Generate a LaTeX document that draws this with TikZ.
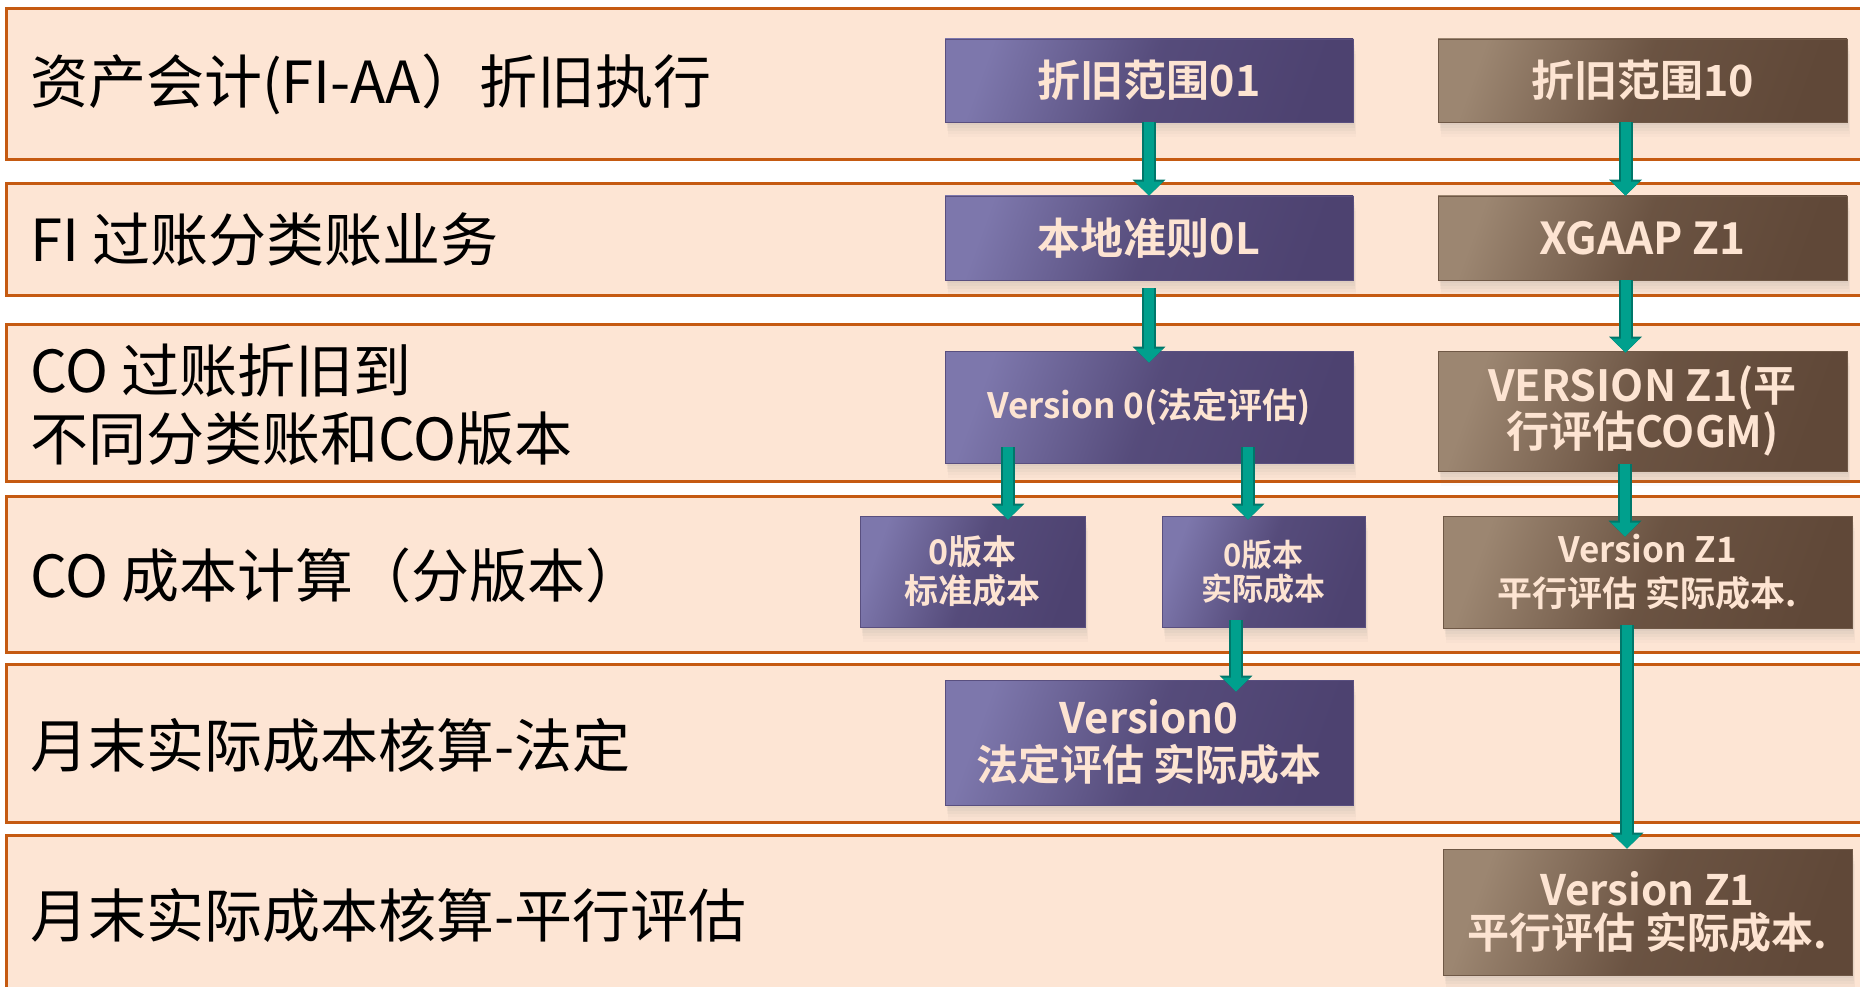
\documentclass[tikz,border=0pt]{standalone}
\usepackage{fontspec}
\setmainfont{Noto Sans CJK SC}[BoldFont={Noto Sans CJK SC Bold}]
\usetikzlibrary{arrows.meta,shadows,calc}
\definecolor{bandfill}{HTML}{FDE5D4}
\definecolor{bandline}{HTML}{C55A11}
\definecolor{pL}{HTML}{7D77AC}
\definecolor{pD}{HTML}{4D4270}
\definecolor{bL}{HTML}{9C8671}
\definecolor{bD}{HTML}{604838}
\definecolor{boxtext}{HTML}{FDE4D2}
\definecolor{tealL}{HTML}{00A08D}
\definecolor{tealD}{HTML}{00776A}
\tikzset{
  band/.style={draw=bandline, line width=3pt, fill=bandfill},
  lab/.style={anchor=west, inner sep=0pt, font=\fontsize{58}{68}\selectfont, align=left, text=black},
  boxbase/.style={inner sep=0pt, align=center, text=boxtext,
    drop shadow={opacity=.06, shadow xshift=1pt, shadow yshift=-3pt},
    drop shadow={opacity=.06, shadow xshift=2pt, shadow yshift=-6pt},
    drop shadow={opacity=.05, shadow xshift=2pt, shadow yshift=-9pt},
    drop shadow={opacity=.04, shadow xshift=3pt, shadow yshift=-12pt},
    drop shadow={opacity=.03, shadow xshift=3pt, shadow yshift=-15pt}},
  pbox/.style={boxbase, left color=pL, right color=pD, middle color=pD!82!pL, shading angle=70, draw=pD!75!pL, line width=0.8pt},
  bbox/.style={boxbase, left color=bL, right color=bD, middle color=bD!82!bL, shading angle=70, draw=bD!75!bL, line width=0.8pt},
  fs/.style 2 args={font=\bfseries\fontsize{#1}{#2}\selectfont},
  arr/.style={draw=tealL, line width=10pt, -{Triangle[width=27pt,length=14pt]},
    preaction={draw=tealD, line width=14pt, -{Triangle[width=32pt,length=16pt]}}},
}
\begin{document}
\begin{tikzpicture}[x=1pt,y=-1pt]
\clip (0,0) rectangle (1860,987);
\fill[white] (0,0) rectangle (1860,987);
% bands
\draw[band] (6,9) rectangle (1900,160);
\draw[band] (6,184) rectangle (1900,295);
\draw[band] (6,324) rectangle (1900,481);
\draw[band] (6,496) rectangle (1900,652);
\draw[band] (6,664) rectangle (1900,822);
\draw[band] (6,835) rectangle (1900,1010);
% labels
\node[lab] (l1) at (30,84) {资产会计(FI-AA）折旧执行};
\node[lab] (l2) at (30,240) {FI 过账分类账业务};
\node[lab] (l3) at (30,405) {CO 过账折旧到\\不同分类账和CO版本};
\node[lab] (l4) at (30,575) {CO 成本计算（分版本）};
\node[lab] (l5) at (30,745) {月末实际成本核算-法定};
\node[lab] (l6) at (30,915) {月末实际成本核算-平行评估};
% boxes
\node[pbox, minimum width=408pt, minimum height=83pt, fs={43}{48}] (b01) at (1149,80.5) {折旧范围01};
\node[bbox, minimum width=409pt, minimum height=83pt, fs={43}{48}] (b10) at (1642.5,80.5) {折旧范围10};
\node[pbox, minimum width=408pt, minimum height=84pt, fs={43}{48}] (b0L) at (1149,238) {本地准则0L};
\node[bbox, minimum width=409pt, minimum height=84pt, fs={44}{48}] (bZ1) at (1642.5,238) {XGAAP Z1};
\node[pbox, minimum width=408pt, minimum height=112pt, fs={35}{40}] (bV0) at (1149,407) {Version 0(法定评估)};
\node[bbox, minimum width=409pt, minimum height=120pt, fs={43}{41}] (bVZ1) at (1642.5,411) {VERSION Z1(平\\行评估COGM)};
\node[pbox, minimum width=225pt, minimum height=111pt, fs={34}{39}] (bstd) at (972.5,571.5) {0版本\\标准成本};
\node[pbox, minimum width=203pt, minimum height=111pt, fs={31}{34}] (bact) at (1263.5,571.5) {0版本\\实际成本};
\node[bbox, minimum width=409pt, minimum height=112pt, fs={35}{44}] (bZ1a) at (1647.5,572) {Version Z1\\平行评估 实际成本.};
\node[pbox, minimum width=408pt, minimum height=125pt, fs={42}{47}] (bV0a) at (1149,742.5) {Version0\\法定评估 实际成本};
\node[bbox, minimum width=409pt, minimum height=126pt, fs={42}{43}] (bZ1b) at (1647.5,912) {Version Z1\\平行评估 实际成本.};
% arrows
\draw[arr] (b01.south) -- (b0L.north);
\draw[arr] ($(b10.south)+(-17,0)$) -- ($(bZ1.north)+(-17,0)$);
\draw[arr] ($(b0L.south)+(0,8)$) -- ($(bV0.north)+(0,12)$);
\draw[arr] ($(bZ1.south)+(-17,0)$) -- ($(bVZ1.north)+(-17,2)$);
\draw[arr] ($(bV0.south)+(-141,-16)$) -- ($(bstd.north)+(35.5,4)$);
\draw[arr] ($(bV0.south)+(99,-16)$) -- ($(bact.north)+(-15.5,4)$);
\draw[arr] ($(bVZ1.south)+(-17.5,-7)$) -- ($(bZ1a.north)+(-22.5,21)$);
\draw[arr] ($(bact.south)+(-27.5,-7)$) -- ($(bV0a.north)+(87,12)$);
\draw[arr] ($(bZ1a.south)+(-20.5,-3)$) -- ($(bZ1b.north)+(-20.5,0)$);
\end{tikzpicture}
\end{document}
